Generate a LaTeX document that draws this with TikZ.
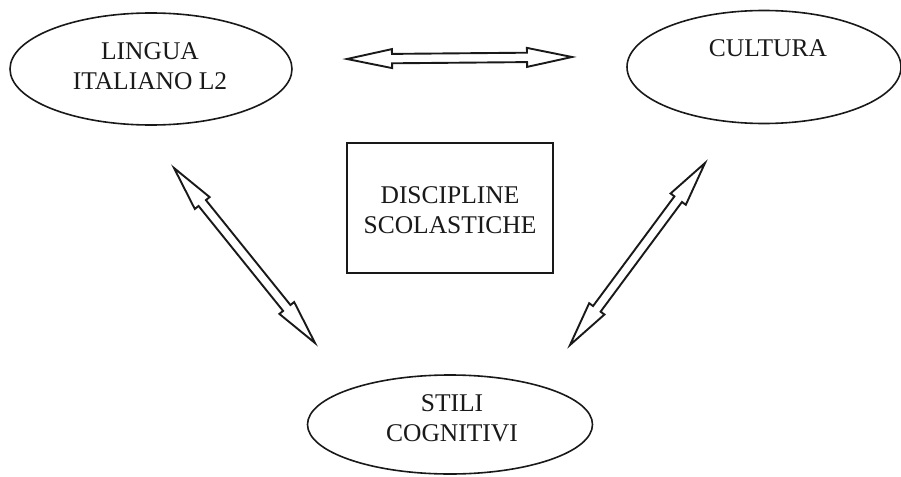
\documentclass[tikz,border=0pt]{standalone}
\usepackage{fontspec}
\setmainfont{Liberation Serif}
\usetikzlibrary{shapes.geometric,calc}
\tikzset{
  x=1pt,y=-1pt,
  oval/.style={draw=black!90,line width=1.6pt,ellipse,inner sep=0pt},
  boxnode/.style={draw=black!90,line width=1.5pt,rectangle,inner sep=0pt},
  txt/.style={inner sep=0pt,align=center,font=\fontsize{25.5}{30}\selectfont,text=black!90},
  arrowline/.style={draw=black!90,line width=1.9pt,line join=miter}
}
\newcommand\dblarr[2]{%
  \coordinate (h1) at ($(#1)!45pt!(#2)$);
  \coordinate (h2) at ($(#2)!45pt!(#1)$);
  \draw[arrowline] (#1) -- ($(h1)!9.5pt!90:(#2)$) -- ($(h1)!4.7pt!90:(#2)$)
    -- ($(h2)!4.7pt!-90:(#1)$) -- ($(h2)!9.5pt!-90:(#1)$) -- (#2)
    -- ($(h2)!9.5pt!90:(#1)$) -- ($(h2)!4.7pt!90:(#1)$)
    -- ($(h1)!4.7pt!-90:(#2)$) -- ($(h1)!9.5pt!-90:(#2)$) -- cycle;
}
\begin{document}
\begin{tikzpicture}
\useasboundingbox (0,0) rectangle (901,476);
% ellipses
\node[oval,minimum width=282pt,minimum height=112pt] (ling) at (151,69) {};
\node[oval,minimum width=274pt,minimum height=113pt] (cult) at (764,67) {};
\node[oval,minimum width=285pt,minimum height=99pt] (stil) at (450,424.5) {};
\node[boxnode,minimum width=206pt,minimum height=130pt] (disc) at (450,208) {};
% texts
\node[txt] (lingt) at (150,66) {LINGUA\\ITALIANO L2};
\node[txt] (cultt) at (768,48.5) {CULTURA};
\node[txt] (disct) at (450,210) {DISCIPLINE\\SCOLASTICHE};
\node[txt] (stilt) at (452,418.5) {STILI\\COGNITIVI};
% arrow end points
\coordinate (a1) at (347,59);
\coordinate (a2) at (572,57);
\coordinate (b1) at (174,168);
\coordinate (b2) at (315,343);
\coordinate (c1) at (705,163);
\coordinate (c2) at (570,345);
\dblarr{a1}{a2}
\dblarr{b1}{b2}
\dblarr{c1}{c2}
\end{tikzpicture}
\end{document}
